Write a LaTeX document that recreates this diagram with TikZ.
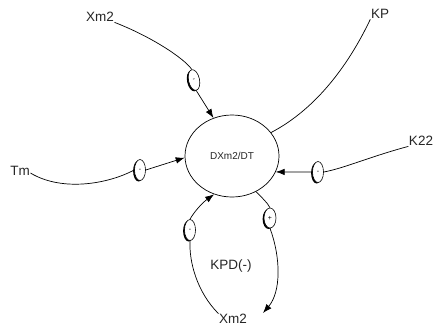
\documentclass[tikz,border=0pt]{standalone}
\usepackage{fontspec}
\setmainfont{Liberation Sans}
\usetikzlibrary{shapes.geometric,arrows.meta,shadows}
\begin{document}
\begin{tikzpicture}[x=1pt,y=-1pt,
  lbl/.style={font=\fontsize{13.5}{14}\selectfont, text=black!85, inner sep=0.5pt},
  sgn/.style={ellipse, draw, line width=0.6pt, fill=white, minimum width=11pt, minimum height=21pt, inner sep=0pt,
    font=\fontsize{7}{7}\selectfont,
    drop shadow={shadow xshift=-1.4pt, shadow yshift=-1pt, fill=black, opacity=1}},
  link/.style={line width=0.7pt},
  arr/.style={line width=0.7pt, -{Latex[length=9pt,width=6.5pt]}}]
\useasboundingbox[fill=white] (0,0) rectangle (435,330);

% central node
\node[ellipse, draw, line width=0.7pt, minimum width=94pt, minimum height=82pt, inner sep=0pt,
      font=\fontsize{10}{10}\selectfont, text=black!85] (d) at (232,156) {DXm2/DT};

% labels
\node[lbl] (xm2t) at (100,17) {Xm2};
\node[lbl] (kp)   at (380,14) {KP};
\node[lbl] (k22)  at (421,141) {K22};
\node[lbl] (tm)   at (20,171) {Tm};
\node[lbl] (kpd)  at (231,266) {KPD(-)};
\node[lbl] (xm2b) at (233,319) {Xm2};

% signs
\node[sgn, rotate=12] (s1) at (194,80) {-};
\node[sgn] (s3) at (140,170) {-};
\node[sgn] (s4) at (318,172) {-};
\node[sgn] (s5) at (190,230) {-};
\node[sgn, minimum width=12pt, minimum height=20pt] (s6) at (270,218) {+};

\coordinate (tipb) at (263,313);

% connectors
\draw[link] (xm2t.south east) .. controls (150,36) and (184,58) .. (s1.north);
\draw[arr] (s1.south) -- (d.116);

\draw[link] (kp.south west) .. controls (350,62) and (318,108) .. (d.31);

\draw[link] (k22.south west) .. controls (372,156) and (345,168) .. (s4.east);
\draw[arr] (s4.west) -- (d.-20);

\draw[link] ([yshift=-2pt]tm.east) .. controls (62,192) and (108,184) .. (s3.west);
\draw[arr] (s3.east) -- (d.182);

\draw[link] (xm2b.north west) .. controls (197,292) and (189,262) .. (s5.south);
\draw[arr] (s5.north) .. controls (194,212) and (202,203) .. (d.245);

\draw[link] (d.-56) .. controls (262,198) and (267,202) .. (s6.north);
\draw[arr] (s6.south) .. controls (281,258) and (281,292) .. (tipb);
\end{tikzpicture}
\end{document}
